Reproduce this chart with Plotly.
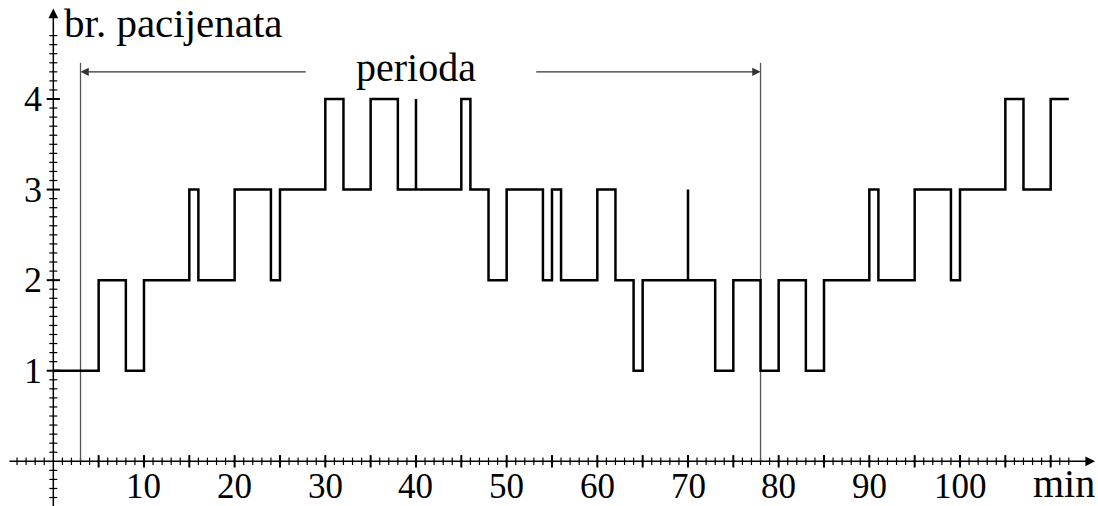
import numpy as np
import plotly.graph_objects as go

# ---- data ----
change_min = [0, 5, 8, 10, 15, 16, 20, 24, 25, 30, 32, 35, 38, 40, 40, 45, 46, 48, 50, 54,
              55, 56, 60, 62, 64, 65, 70, 70, 73, 75, 78, 80, 83, 85, 90, 91, 95, 99, 100,
              105, 107, 110, 112]
patients = [1, 2, 1, 2, 3, 2, 3, 2, 3, 4, 3, 4, 3, 4, 3, 4, 3, 2, 3, 2,
            3, 2, 3, 2, 1, 2, 3, 2, 1, 2, 1, 2, 1, 2, 3, 2, 3, 2, 3,
            4, 3, 4, 4]
period_start = 3
period_end = 78
x_tick_labels = [10, 20, 30, 40, 50, 60, 70, 80, 90, 100]
y_tick_labels = [1, 2, 3, 4]

FONT = "Liberation Serif"
X_RANGE = [-5.88, 115.22]
Y_RANGE = [-0.4935, 5.093]
PX_X = 1098 / (X_RANGE[1] - X_RANGE[0])   # pixels per minute
PX_Y = 506 / (Y_RANGE[1] - Y_RANGE[0])    # pixels per patient


def segs_vertical(xs, half):
    xx, yy = [], []
    for v in xs:
        xx += [v, v, None]
        yy += [-half, half, None]
    return xx, yy


def segs_horizontal(ys, half):
    xx, yy = [], []
    for v in ys:
        xx += [-half, half, None]
        yy += [v, v, None]
    return xx, yy


fig = go.Figure()

# x ticks
x_minor = [k for k in range(-4, 113) if k != 0 and k % 5 != 0]
x_major = [k for k in range(5, 111, 5)]
mx, my = segs_vertical(x_minor, 3.7 / PX_Y)
Mx, My = segs_vertical(x_major, 6.2 / PX_Y)
# y ticks
y_minor = [k / 10 for k in range(-4, 48) if k != 0 and k % 10 != 0]
y_major = [1, 2, 3, 4]
nx, ny = segs_horizontal(y_minor, 4.0 / PX_X)
Nx, Ny = segs_horizontal(y_major, 6.6 / PX_X)

fig.add_trace(go.Scatter(x=mx + nx, y=my + ny, mode="lines",
                         line=dict(color="black", width=1.2), hoverinfo="skip"))
fig.add_trace(go.Scatter(x=Mx + Nx, y=My + Ny, mode="lines",
                         line=dict(color="black", width=2), hoverinfo="skip"))

# period markers
fig.add_trace(go.Scatter(x=[period_start, period_start, None, period_end, period_end],
                         y=[0, 4.40, None, 0, 4.40], mode="lines",
                         line=dict(color="#555555", width=1.3), hoverinfo="skip"))

# step data
fig.add_trace(go.Scatter(x=change_min, y=patients, mode="lines", line_shape="hv",
                         line=dict(color="black", width=2.5), hoverinfo="skip"))

ann = []
# axes with arrows
ann.append(dict(x=114.9, y=0, ax=-5.0, ay=0, xref="x", yref="y", axref="x", ayref="y",
                text="", showarrow=True, arrowhead=2, arrowsize=1.3, arrowwidth=1.5,
                arrowcolor="black", standoff=0, startstandoff=0))
ann.append(dict(x=0, y=5.0, ax=0, ay=Y_RANGE[0] - 0.1, xref="x", yref="y", axref="x", ayref="y",
                text="", showarrow=True, arrowhead=2, arrowsize=1.3, arrowwidth=1.5,
                arrowcolor="black", standoff=0, startstandoff=0))
# period arrows
ann.append(dict(x=period_start, y=4.30, ax=28.0, ay=4.30, xref="x", yref="y", axref="x", ayref="y",
                text="", showarrow=True, arrowhead=2, arrowsize=1.5, arrowwidth=1.1,
                arrowcolor="#333333", standoff=0, startstandoff=0))
ann.append(dict(x=period_end, y=4.30, ax=53.1, ay=4.30, xref="x", yref="y", axref="x", ayref="y",
                text="", showarrow=True, arrowhead=2, arrowsize=1.5, arrowwidth=1.1,
                arrowcolor="#333333", standoff=0, startstandoff=0))

# tick labels
for v in x_tick_labels:
    ann.append(dict(x=v, y=0, xref="x", yref="y", text=str(v), showarrow=False,
                    xanchor="center", yanchor="middle", yshift=-25.0, borderpad=0,
                    font=dict(family=FONT, size=35, color="black")))
for v in y_tick_labels:
    ann.append(dict(x=0, y=v, xref="x", yref="y", text=str(v), showarrow=False,
                    xanchor="right", yanchor="middle", xshift=-9,
                    font=dict(family=FONT, size=36, color="black")))

# texts
ann.append(dict(x=0, y=4.84, xref="x", yref="y", text="br. pacijenata", showarrow=False,
                xanchor="left", yanchor="middle", xshift=8.5,
                font=dict(family=FONT, size=41, color="black")))
ann.append(dict(x=40, y=4.35, xref="x", yref="y", text="perioda", showarrow=False,
                xanchor="center", yanchor="middle",
                font=dict(family=FONT, size=40, color="black")))
ann.append(dict(x=111.47, y=-0.245, xref="x", yref="y", text="min", showarrow=False,
                xanchor="center", yanchor="middle", borderpad=0,
                font=dict(family=FONT, size=40, color="black")))

fig.update_layout(
    width=1098, height=506,
    margin=dict(l=0, r=0, t=0, b=0),
    paper_bgcolor="white", plot_bgcolor="white",
    showlegend=False,
    xaxis=dict(range=X_RANGE, visible=False, fixedrange=True),
    yaxis=dict(range=Y_RANGE, visible=False, fixedrange=True),
    annotations=ann,
)

fig.write_html("out.html", config={"displayModeBar": False},
               post_script="document.body.style.margin='0';document.body.style.overflow='hidden';")
